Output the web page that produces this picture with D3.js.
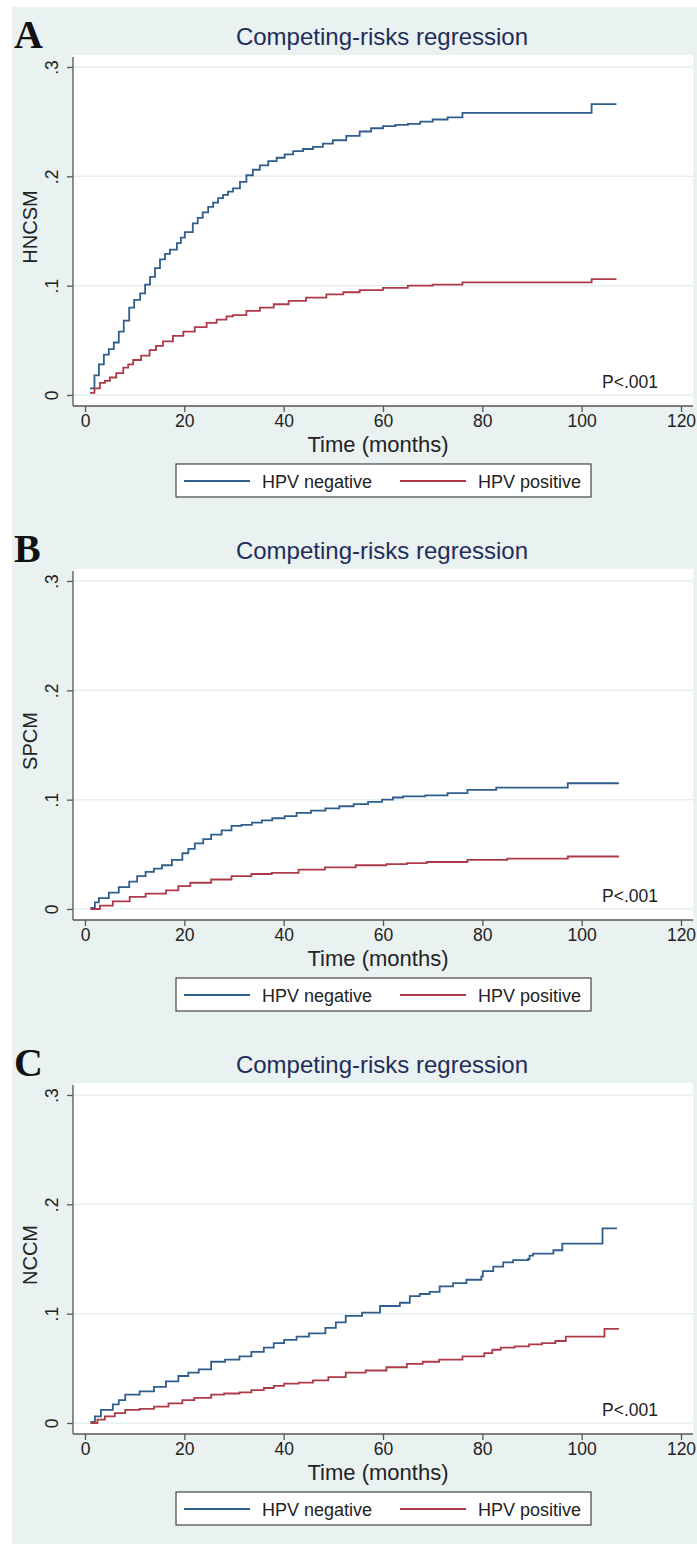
<!DOCTYPE html>
<html>
<head>
<meta charset="utf-8">
<script src="https://cdn.jsdelivr.net/npm/d3@7"></script>
<style>
  body { margin: 0; background: #fff; }
  svg { display: block; font-family: "Liberation Sans", Arial, sans-serif; }
</style>
</head>
<body>
<svg width="697" height="1544"></svg>
<script>
// time (months), cumulative incidence
var hncsmNeg = [[1.0,0.006],[1.9,0.018],[2.8,0.028],[3.8,0.037],[4.8,0.042],[5.8,0.048],[6.8,0.058],[7.8,0.068],[8.9,0.080],[9.9,0.087],[11.1,0.093],[12.1,0.101],[13.1,0.108],[14.1,0.116],[15.1,0.124],[16.1,0.129],[17.1,0.133],[18.5,0.139],[19.3,0.144],[20.1,0.149],[21.7,0.157],[22.7,0.162],[23.7,0.167],[24.8,0.172],[25.8,0.176],[26.8,0.180],[27.8,0.183],[28.8,0.186],[29.8,0.189],[31.2,0.195],[32.5,0.201],[33.8,0.206],[35.2,0.210],[36.9,0.214],[38.6,0.217],[40.2,0.220],[41.9,0.223],[43.9,0.225],[45.9,0.227],[47.9,0.230],[49.9,0.233],[52.6,0.237],[55.3,0.241],[57.6,0.244],[60,0.246],[62.5,0.247],[65,0.248],[67.5,0.250],[70,0.252],[73,0.254],[76,0.258],[102,0.266],[107,0.266]];
var hncsmPos = [[1.0,0.002],[1.9,0.006],[3.0,0.011],[4.0,0.013],[5.0,0.016],[6.3,0.020],[7.7,0.025],[8.7,0.028],[9.7,0.032],[11.3,0.036],[13.0,0.041],[14.3,0.045],[15.7,0.049],[17.7,0.054],[19.8,0.058],[22.1,0.062],[24.5,0.066],[26.5,0.069],[28.5,0.072],[29.8,0.073],[32.5,0.077],[35.2,0.080],[38,0.083],[41,0.086],[44.5,0.089],[48.6,0.092],[52,0.094],[55.3,0.096],[60,0.098],[65,0.100],[70,0.101],[76,0.103],[102,0.106],[107,0.106]];

var spcmNeg = [[1.1,0.001],[2.0,0.006],[2.8,0.010],[4.8,0.015],[6.8,0.020],[8.9,0.025],[10.5,0.030],[12.2,0.034],[13.9,0.037],[15.5,0.040],[17.5,0.045],[19.6,0.051],[20.8,0.055],[22.1,0.060],[23.8,0.064],[25.4,0.068],[27.5,0.072],[29.5,0.076],[31.5,0.077],[33.6,0.079],[35.6,0.081],[37.7,0.083],[40.2,0.085],[42.6,0.088],[45.5,0.090],[48.4,0.092],[51.2,0.094],[54.1,0.096],[57,0.098],[59.8,0.100],[62,0.102],[64,0.103],[68.5,0.104],[73,0.106],[77,0.109],[82.8,0.111],[97.2,0.115],[107.5,0.115]];
var spcmPos = [[1.1,0.0],[3,0.003],[5.6,0.007],[9,0.011],[12.2,0.014],[16.3,0.017],[18.8,0.021],[21.2,0.024],[25.4,0.027],[29.5,0.030],[33.5,0.032],[37.6,0.033],[43,0.036],[48.3,0.038],[54.5,0.040],[60.7,0.041],[64.8,0.042],[68.8,0.043],[77,0.045],[85,0.046],[97.2,0.048],[107.5,0.048]];

var nccmNeg = [[1.1,0.001],[2,0.006],[3.2,0.012],[5.6,0.017],[6.8,0.021],[8.1,0.026],[11,0.029],[13.9,0.033],[16.3,0.038],[18.8,0.043],[20.8,0.046],[22.9,0.049],[25.4,0.056],[28.2,0.058],[31.1,0.061],[33.5,0.065],[36,0.069],[38,0.073],[40.1,0.076],[42.6,0.079],[45.1,0.082],[48.4,0.087],[50.5,0.092],[52.5,0.098],[55.8,0.101],[59.4,0.107],[63.4,0.110],[65.4,0.116],[67.4,0.118],[69.4,0.120],[71.4,0.125],[74.1,0.128],[76.8,0.131],[79.8,0.134],[80.1,0.139],[82.2,0.143],[84.2,0.147],[86.2,0.149],[89.2,0.150],[89.5,0.153],[90.2,0.155],[94.3,0.158],[96.1,0.164],[104.2,0.178],[107.1,0.178]];
var nccmPos = [[1.1,0.0],[2.5,0.003],[4,0.006],[6,0.009],[8.1,0.012],[11,0.013],[13.9,0.015],[16.8,0.018],[19.6,0.021],[22,0.023],[25.4,0.026],[28,0.027],[31.1,0.028],[33.5,0.030],[36,0.032],[38,0.034],[40.1,0.036],[43,0.037],[45.9,0.039],[49,0.042],[52.5,0.046],[56.5,0.048],[60.7,0.051],[64.8,0.054],[68,0.056],[71.3,0.058],[76,0.061],[80.4,0.064],[82,0.067],[83.7,0.069],[86.5,0.070],[89.4,0.072],[92,0.073],[94.7,0.075],[96.8,0.079],[104.6,0.086],[107.5,0.086]];

var panelLetters = ["A", "B", "C"];
var yTitles = ["HNCSM", "SPCM", "NCCM"];
var negSeries = [hncsmNeg, spcmNeg, nccmNeg];
var posSeries = [hncsmPos, spcmPos, nccmPos];
var xTicks = [0, 20, 40, 60, 80, 100, 120];
var yTicks = [0, 0.1, 0.2, 0.3];
var seriesNames = ["HPV negative", "HPV positive"];
var colors = ["#2f5e8c", "#ad3a47"];

var svg = d3.select("svg");

// panel background
svg.append("rect")
    .attr("x", 12).attr("y", 7)
    .attr("width", 685).attr("height", 1537)
    .attr("fill", "#e9f1f1");

var x = d3.scaleLinear().domain([0, 120]).range([85, 681]);

panelLetters.forEach(function (letter, i) {
    var off = i * 514;
    var g = svg.append("g").attr("transform", "translate(0," + off + ")");
    var y = d3.scaleLinear().domain([0, 0.3]).range([395, 67]);

    g.append("rect")
        .attr("x", 73).attr("y", 55)
        .attr("width", 620).attr("height", 351)
        .attr("fill", "#fff");

    // grid
    g.selectAll(".grid").data(yTicks).enter().append("line")
        .attr("x1", 74).attr("x2", 693)
        .attr("y1", function (d) { return y(d); })
        .attr("y2", function (d) { return y(d); })
        .attr("stroke", "#e6eff0").attr("stroke-width", 1.5);

    // axes
    var xAxis = g.append("g").attr("transform", "translate(0,406)")
        .call(d3.axisBottom(x).tickValues(xTicks).tickSize(6).tickPadding(3));
    xAxis.select(".domain").attr("d", "M73,0H693");
    var yAxis = g.append("g").attr("transform", "translate(73,0)")
        .call(d3.axisLeft(y).tickValues(yTicks).tickSize(6)
            .tickFormat(function (d) { return d === 0 ? "0" : d3.format(".1f")(d).replace("0.", "."); }));
    yAxis.select(".domain").attr("d", "M0,57V406");
    [xAxis, yAxis].forEach(function (a) {
        a.selectAll("path, line").attr("stroke", "#555").attr("stroke-width", 1.3);
        a.selectAll("text").attr("fill", "#222").attr("font-size", 17.5)
            .attr("font-family", "Liberation Sans, Arial, sans-serif");
    });
    yAxis.selectAll(".tick text")
        .attr("x", null).attr("dy", null)
        .attr("text-anchor", "middle")
        .attr("transform", "translate(-21,0) rotate(-90)")
        .attr("dy", "0.35em");

    // curves
    var line = d3.line()
        .x(function (d) { return x(d[0]); })
        .y(function (d) { return y(d[1]); })
        .curve(d3.curveStepAfter);
    [negSeries[i], posSeries[i]].forEach(function (s, k) {
        g.append("path").datum(s)
            .attr("d", line)
            .attr("fill", "none")
            .attr("stroke", colors[k])
            .attr("stroke-width", 1.8);
    });

    // labels
    g.append("text").attr("x", 14).attr("y", 48)
        .attr("font-family", "Liberation Serif, Times New Roman, serif")
        .attr("font-weight", "bold").attr("font-size", 40)
        .attr("fill", "#111").text(letter);
    g.append("text").attr("x", 382).attr("y", 45)
        .attr("text-anchor", "middle").attr("font-size", 24)
        .attr("fill", "#1f2d5a").text("Competing-risks regression");
    g.append("text").attr("transform", "translate(37,227) rotate(-90)")
        .attr("text-anchor", "middle").attr("font-size", 20)
        .attr("fill", "#222").text(yTitles[i]);
    g.append("text").attr("x", 378).attr("y", 452)
        .attr("text-anchor", "middle").attr("font-size", 22)
        .attr("fill", "#222").text("Time (months)");
    g.append("text").attr("x", 658).attr("y", 388)
        .attr("text-anchor", "end").attr("font-size", 17.5)
        .attr("fill", "#222").text("P<.001");

    // legend
    var lg = g.append("g");
    lg.append("rect").attr("x", 176).attr("y", 464)
        .attr("width", 415).attr("height", 33)
        .attr("fill", "#fff").attr("stroke", "#444").attr("stroke-width", 1.2);
    var lx = [184, 400];
    seriesNames.forEach(function (nm, k) {
        lg.append("line").attr("x1", lx[k]).attr("x2", lx[k] + 66)
            .attr("y1", 481).attr("y2", 481)
            .attr("stroke", colors[k]).attr("stroke-width", 1.8);
        lg.append("text").attr("x", lx[k] + 78).attr("y", 487.5)
            .attr("font-size", 18).attr("fill", "#222").text(nm);
    });
});
</script>
</body>
</html>
